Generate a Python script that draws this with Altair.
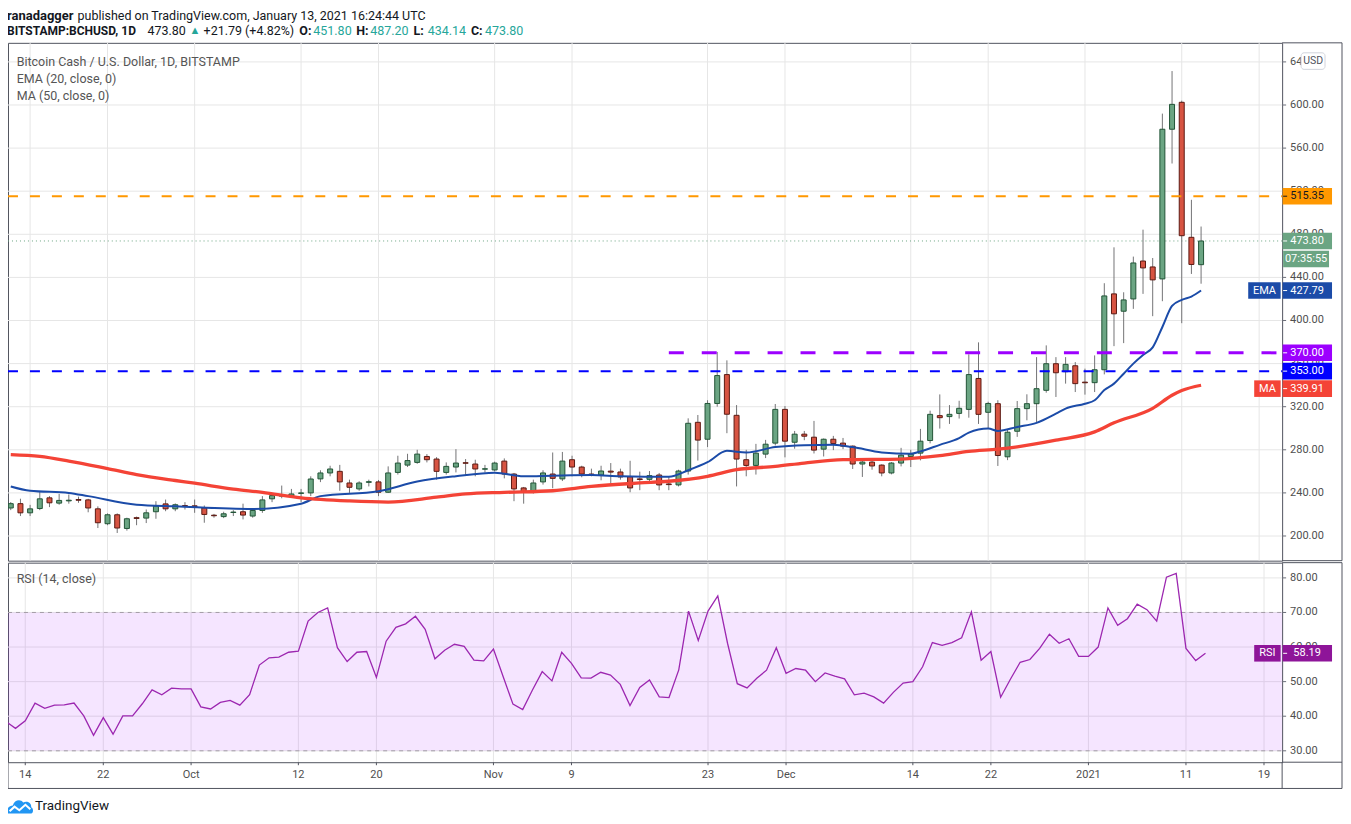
import altair as alt
import pandas as pd

# ---------------- data ----------------
FIRST_DAY = "2020-09-12"
opens = [226, 230, 221.5, 225.5, 235.4, 230.5, 232.6, 233.8, 233.5, 225.2, 211.4, 219.7, 207, 217, 216.6,
         222.5, 229.8, 225.2, 228.2, 228, 226.1, 219.3, 218, 221.8, 222.5, 218.5, 223.7, 234.5, 237, 237.2,
         239.5, 240, 253, 258.5, 260, 249.2, 243.7, 249.8, 250.2, 240.6, 259, 265.8, 268.3, 273.8, 271.4,
         259, 264, 268, 266.8, 262, 261.3, 269.5, 257.5, 244.6, 241.5, 250.2, 257.5, 253, 270.8, 264,
         257.5, 256.6, 260.2, 259.4, 255, 253, 252.6, 256.6, 248.3, 247.4, 260.3, 305.5, 289.8, 323, 349.8,
         312, 270.8, 265.5, 276, 286.2, 317.5, 287, 294.5, 291.7, 280.6, 289.8, 286.2, 283.4, 266.8, 268.6,
         265.8, 258.5, 267.7, 273.8, 276.9, 288.6, 311.7, 310.8, 313.8, 317.5, 346.2, 314.8, 322.8, 273.5,
         297.2, 318.2, 322.8, 335.2, 359.9, 352.5, 358, 342.8, 342.3, 354.3, 424.7, 408.6, 420, 455.2,
         449.7, 438.6, 577.5, 602.5, 477.2, 451.8]
highs = [231.5, 234.6, 228.9, 241.5, 237, 239, 238.5, 236.5, 234.5, 227.5, 221, 221, 217, 218, 224.6,
         232.3, 233.8, 230.2, 231.4, 233.8, 228.3, 220.5, 222.5, 224, 230, 225.2, 237, 240, 246.8, 243.7,
         243.7, 255.4, 261, 265.2, 266, 252.3, 250.8, 252.3, 252, 264.6, 274.5, 276.3, 280, 276, 273.2,
         268.3, 280.6, 271.4, 270.8, 266, 269, 272, 258.5, 245.5, 252.3, 261, 277.5, 278, 274.5, 265.2,
         262.5, 265.2, 267.7, 262.5, 269.8, 259.7, 260.3, 258.5, 254.8, 261.5, 309.2, 312.3, 326, 370.8, 363,
         321.5, 280, 285.5, 289.2, 322.5, 320.6, 297.5, 297.5, 306.8, 290.5, 292.9, 291, 284, 270.8, 270.8,
         266.5, 268.6, 281.8, 280, 299.4, 316.3, 331.4, 321.5, 325.5, 368.6, 379.7, 324.6, 326, 299,
         325.3, 331.5, 366, 376.9, 366, 366, 361.4, 355.3, 367.6, 434.6, 467.9, 426.2, 459.3, 484.3,
         458, 592, 631.5, 604, 512, 487.2]
lows = [224, 218.5, 218.5, 224, 226.8, 229, 230, 230.8, 222, 207.4, 210, 202.8, 205, 210, 212,
        216, 223, 223, 224.6, 221.5, 212.3, 217, 216.6, 218.5, 215.4, 217, 221.5, 231.4, 235, 236,
        231.4, 237, 250, 255.4, 242, 240, 242, 246, 237, 240, 257, 264, 267, 268.3, 252.3,
        257, 259, 256.3, 255.4, 259, 260, 253.5, 232.3, 230, 239.4, 247.7, 244.3, 251, 255.4, 254.5,
        255.4, 251.7, 248.6, 252.3, 240.6, 242.5, 249.8, 242.5, 242.5, 246, 257, 270, 282.5, 320, 295.4,
        246, 255.4, 257, 272.3, 284, 273, 281, 288.9, 276.6, 273.8, 279.7, 280.6, 262.2, 254.8, 261.5,
        255.4, 257.2, 264.6, 264, 270.2, 286, 299.7, 304, 309, 309.8, 304, 299.7, 265, 270.4,
        292, 307.4, 305.8, 333, 329, 341.4, 333.6, 331.2, 333.6, 350, 376.2, 379, 410.8, 424.7,
        404, 417.9, 545.7, 397.5, 443.2, 434.14]
closes = [230, 221.5, 225.2, 234.5, 230.8, 233, 233.2, 233.2, 226, 212.3, 219.7, 207.4, 216, 216.3, 221.5,
          227.7, 225.2, 229, 227.5, 227.4, 220, 218.8, 220.6, 222.2, 219.4, 223.7, 233.5, 237.5, 237.5, 239,
          240, 252.9, 258.5, 262.2, 250.2, 245.2, 249.2, 250.4, 240.6, 258.5, 267.7, 270, 276, 270.8, 260,
          264.6, 267.7, 267.5, 262.2, 262.4, 267.7, 257.5, 243.7, 240.6, 249.2, 258.5, 253.5, 269.5, 264, 257.5,
          257, 260.3, 259.3, 254.8, 244.6, 252.4, 256, 247.4, 247.7, 260.3, 304.6, 289, 323, 348.9, 313,
          271.4, 265.5, 276.9, 285.2, 317.5, 288, 294.5, 292.6, 279.7, 289.8, 285.8, 283.4, 266.8, 268.6, 265,
          258.5, 267.7, 275, 276, 288, 312.9, 309.8, 312.9, 318.5, 349.8, 312.9, 323, 274.7, 296.3,
          318.2, 322.8, 336.7, 359.9, 351.5, 359.3, 341.4, 342.2, 354.3, 422.8, 406.2, 419.1, 453.4, 448.8,
          437.7, 577.5, 600.6, 478.7, 452.01, 473.8]
rsi14 = [38.5, 36.5, 38.7, 43.8, 42.3, 43.2, 43.3, 43.8, 40.1, 34.5, 39.6, 34.8, 40.1, 40.1, 43.6,
         47.6, 46.2, 48.1, 47.9, 47.9, 42.7, 42.1, 44.0, 44.6, 43.2, 46.2, 54.8, 56.9, 57.1, 58.5,
         58.8, 67.5, 70.0, 71.3, 59.8, 55.8, 58.5, 58.7, 51.2, 61.7, 65.7, 66.7, 68.9, 65.1, 56.6,
         59.1, 60.8, 60.2, 56.2, 56.0, 59.4, 51.4, 43.5, 41.9, 47.6, 52.9, 50.2, 58.5, 55.3, 51.1,
         51.0, 52.7, 51.9, 49.2, 43.1, 48.3, 50.5, 45.6, 45.4, 53.4, 70.4, 61.9, 70.4, 74.8, 61.1,
         49.4, 48.2, 51.0, 53.3, 59.8, 52.4, 53.8, 53.3, 50.0, 52.5, 51.6, 50.8, 46.2, 46.7, 45.6,
         43.8, 46.9, 49.6, 50.0, 54.3, 61.3, 60.5, 61.3, 62.7, 70.2, 56.2, 58.7, 45.5, 50.7,
         55.6, 56.4, 59.6, 63.7, 61.1, 62.4, 57.3, 57.3, 60.0, 71.3, 66.3, 68.2, 72.4, 70.8,
         67.5, 80.2, 81.3, 59.6, 56.1, 58.19]

ema_dates = ["2020-09-12", "2020-09-14", "2020-09-18", "2020-09-20", "2020-09-25", "2020-09-29",
             "2020-10-07", "2020-10-12", "2020-10-14", "2020-10-20", "2020-10-24", "2020-10-28",
             "2020-11-01", "2020-11-04", "2020-11-07", "2020-11-11", "2020-11-14", "2020-11-19",
             "2020-11-21", "2020-11-23", "2020-11-25", "2020-11-27", "2020-11-30", "2020-12-03",
             "2020-12-06", "2020-12-08", "2020-12-11", "2020-12-14", "2020-12-15", "2020-12-17",
             "2020-12-19", "2020-12-20", "2020-12-22", "2020-12-23", "2020-12-25", "2020-12-27",
             "2020-12-29", "2020-12-30", "2021-01-01", "2021-01-02", "2021-01-03", "2021-01-04",
             "2021-01-05", "2021-01-06", "2021-01-07", "2021-01-08", "2021-01-09", "2021-01-10",
             "2021-01-11", "2021-01-12", "2021-01-13"]
ema_vals = [246, 242, 240, 237, 229, 227.5, 225, 230, 237, 241.5, 250.5, 255.5,
            258.8, 255.5, 256, 256.5, 255.5, 255, 261, 268.5, 279, 277.5, 282.5, 284.3,
            284.6, 282.5, 277.5, 276.3, 278.5, 284.6, 290.8, 296, 299.7, 297.5, 301.2, 305,
            313.5, 318.2, 322.8, 326, 335.5, 341.4, 350.6, 360, 368, 375, 394, 413.5,
            419.1, 422.2, 427.79]
ma_dates = ["2020-09-12", "2020-09-15", "2020-09-18", "2020-09-22", "2020-09-25", "2020-09-29",
            "2020-10-01", "2020-10-05", "2020-10-08", "2020-10-12", "2020-10-17", "2020-10-21",
            "2020-10-26", "2020-10-29", "2020-11-02", "2020-11-07", "2020-11-11", "2020-11-16",
            "2020-11-19", "2020-11-23", "2020-11-26", "2020-11-30", "2020-12-03", "2020-12-07",
            "2020-12-13", "2020-12-17", "2020-12-20", "2020-12-23", "2020-12-25", "2020-12-29",
            "2021-01-02", "2021-01-04", "2021-01-08", "2021-01-10", "2021-01-11", "2021-01-13"]
ma_vals = [275.5, 273.8, 269.5, 262.5, 257, 251.5, 249, 243.5, 240.5, 235.4, 232.5, 231.5,
           236, 239, 240.5, 242, 246, 249.2, 250.8, 255.4, 261.5, 264.6, 267.7, 270.8,
           271.4, 274.5, 278.5, 280.6, 282.7, 288.9, 296.6, 305, 318.5, 330.6, 335, 339.91]

tick_dates = ["2020-09-14", "2020-09-22", "2020-10-01", "2020-10-12", "2020-10-20", "2020-11-01",
              "2020-11-09", "2020-11-23", "2020-12-01", "2020-12-14", "2020-12-22", "2021-01-01",
              "2021-01-11", "2021-01-19"]
tick_labels = ["14", "22", "Oct", "12", "20", "Nov", "9", "23", "Dec", "14", "22", "2021", "11", "19"]
price_ticks = [200, 240, 280, 320, 360, 400, 440, 480, 520, 560, 600, 640]
rsi_ticks = [30, 40, 50, 60, 70, 80]

level_orange = 515.35
level_purple = 370.00
level_blue = 353.00
purple_from = "2020-11-19"
ema_last = ema_vals[-1]
ma_last = ma_vals[-1]
countdown = "07:35:55"

title_author = "ranadagger"
title_rest = "published on TradingView.com, January 13, 2021 16:24:44 UTC"
symbol = "BITSTAMP:BCHUSD, 1D"
series_name = "Bitcoin Cash / U.S. Dollar, 1D, BITSTAMP"
ema_name = "EMA (20, close, 0)"
ma_name = "MA (50, close, 0)"
rsi_name = "RSI (14, close)"

# ---------------- frames ----------------
ORIGIN = pd.Timestamp("2020-09-14")


def to_day(ds):
    return [(pd.Timestamp(d) - ORIGIN).days for d in ds]


dates = pd.date_range(FIRST_DAY, periods=len(opens), freq="D")
candles = pd.DataFrame({"day": (dates - ORIGIN).days, "open": opens, "high": highs,
                        "low": lows, "close": closes, "rsi": rsi14})
ema_df = pd.DataFrame({"day": to_day(ema_dates), "v": ema_vals})
ma_df = pd.DataFrame({"day": to_day(ma_dates), "v": ma_vals})
x_ticks = pd.DataFrame({"day": to_day(tick_dates), "lbl": tick_labels})
one = pd.DataFrame({"k": [0]})
price_grid = pd.DataFrame({"p": price_ticks, "lbl": [f"{v:.2f}" for v in price_ticks]})
rsi_grid = pd.DataFrame({"p": rsi_ticks, "lbl": [f"{v:.2f}" for v in rsi_ticks]})

last_c = closes[-1]
chg = last_c - closes[-2]
pct = chg / closes[-2] * 100

# ---------------- styling ----------------
FONT = "Roboto"
W, H1, H2, RA = 1277, 519, 200, 60
BOT = 226.3
GRID = "#e6e6e6"
FRAME = "#50535e"
LABEL = "#4f4f4f"
TICKC = "#6a6d78"
UP_FILL, UP_LINE = "#6ba583", "#225437"
DN_FILL, DN_LINE = "#d75442", "#5b1a13"
WICK = "#737375"
EMA_C = "#1b4ba8"
MA_C = "#f44336"
ORANGE = "#ff9800"
PURPLE = "#9c00ff"
BLUE = "#0000ff"
GREEN = "#6ba583"
TEAL = "#26a69a"
RSI_C = "#9c27b0"
RSI_BOX = "#8e1599"
DARK = "#131722"

xs = alt.Scale(domain=[-1.77, 128.86], nice=False, zero=False)
ys = alt.Scale(domain=[177.1, 657.7], nice=False, zero=False)
rs = alt.Scale(domain=[26.7, 84.4], nice=False, zero=False)
xnone = alt.X("day:Q", scale=xs, axis=None)


def rule_px(x, x2, y, y2=None, color=FRAME, width=1):
    enc = dict(x=alt.value(x), x2=alt.value(x2), y=alt.value(y))
    if y2 is not None:
        enc["y2"] = alt.value(y2)
    return alt.Chart(one).mark_rule(color=color, strokeWidth=width).encode(**enc)


def text_px(x, y, s, size=12.5, color=DARK, weight="normal", align="left"):
    return alt.Chart(one).mark_text(font=FONT, fontSize=size, color=color, fontWeight=weight,
                                    align=align, baseline="middle").encode(
        x=alt.value(x), y=alt.value(y), text=alt.value(s))


def grids(grid_df, scale, height):
    """vertical + horizontal gridlines, right-hand ticks and labels"""
    vg = alt.Chart(x_ticks).mark_rule(color=GRID, strokeWidth=1).encode(
        x=xnone, y=alt.value(0), y2=alt.value(height))
    hg = alt.Chart(grid_df).mark_rule(color=GRID, strokeWidth=1).encode(
        x=alt.value(0), x2=alt.value(W), y=alt.Y("p:Q", scale=scale, axis=None))
    t = alt.Chart(grid_df).mark_rule(color=TICKC, strokeWidth=1).encode(
        x=alt.value(W), x2=alt.value(W + 4), y=alt.Y("p:Q", scale=scale, axis=None))
    lab = alt.Chart(grid_df).mark_text(font=FONT, fontSize=11, color=LABEL, align="left",
                                       baseline="middle").encode(
        x=alt.value(W + 8), y=alt.Y("p:Q", scale=scale, axis=None), text="lbl:N")
    return [vg, hg, t, lab]


def hline(scale, value, color, dash, width, start_day=None):
    d = pd.DataFrame({"p": [value], "d": [start_day if start_day is not None else 0]})
    enc = dict(y=alt.Y("p:Q", scale=scale, axis=None), x2=alt.value(W))
    enc["x"] = alt.value(0) if start_day is None else alt.X("d:Q", scale=xs, axis=None)
    return alt.Chart(d).mark_rule(color=color, strokeDash=dash, strokeWidth=width).encode(**enc)


def ybox(scale, value, x0, x1, fill, o0=-8.3, o1=8.3):
    return alt.Chart(pd.DataFrame({"p": [value]})).mark_rect(
        fill=fill, yOffset=o0, y2Offset=o1).encode(
        x=alt.value(x0), x2=alt.value(x1), y=alt.Y("p:Q", scale=scale, axis=None), y2="p:Q")


def ytext(scale, value, s, x, color="white", dy=0, size=11):
    return alt.Chart(pd.DataFrame({"p": [value]})).mark_text(
        font=FONT, fontSize=size, color=color, align="center", baseline="middle", dy=dy).encode(
        x=alt.value(x), y=alt.Y("p:Q", scale=scale, axis=None), text=alt.value(s))


def ytick(scale, value, color="white", dy=0):
    return alt.Chart(pd.DataFrame({"p": [value]})).mark_rule(
        color=color, strokeWidth=1, yOffset=dy).encode(
        x=alt.value(W + 1), x2=alt.value(W + 5), y=alt.Y("p:Q", scale=scale, axis=None))


def value_label(scale, value, fill, tcolor="white", dy=0):
    return [ybox(scale, value, W + 0.5, W + 50, fill, -8.3 + dy, 8.3 + dy),
            ytick(scale, value, tcolor, dy),
            ytext(scale, value, f"{value:.2f}", W + 25, tcolor, dy)]


# ---------------- price pane ----------------
wicks = alt.Chart(candles).mark_rule(color=WICK, strokeWidth=1, clip=True).encode(
    x=xnone, y=alt.Y("low:Q", scale=ys, axis=None), y2="high:Q")
up = "datum.close >= datum.open"
bodies = alt.Chart(candles).mark_bar(size=5, strokeWidth=1, clip=True).encode(
    x=xnone, y=alt.Y("open:Q", scale=ys, axis=None), y2="close:Q",
    fill=alt.condition(up, alt.value(UP_FILL), alt.value(DN_FILL)),
    stroke=alt.condition(up, alt.value(UP_LINE), alt.value(DN_LINE)))
ema = alt.Chart(ema_df).mark_line(color=EMA_C, strokeWidth=2, interpolate="monotone", clip=True).encode(
    x=xnone, y=alt.Y("v:Q", scale=ys, axis=None))
ma = alt.Chart(ma_df).mark_line(color=MA_C, strokeWidth=3.3, interpolate="monotone", clip=True).encode(
    x=xnone, y=alt.Y("v:Q", scale=ys, axis=None))

price_layers = grids(price_grid, ys, H1)
price_layers += [
    hline(ys, last_c, GREEN, [1, 3], 1),
    wicks, bodies, ema, ma,
    hline(ys, level_orange, ORANGE, [10, 12], 2),
    hline(ys, level_blue, BLUE, [10, 12], 2),
    hline(ys, level_purple, PURPLE, [15, 18], 3, start_day=to_day([purple_from])[0]),
]
price_layers += value_label(ys, level_orange, ORANGE, DARK)
price_layers += value_label(ys, last_c, GREEN)
price_layers += [ybox(ys, last_c, W + 1, W + 47, GREEN, 9.7, 26.4),
                 ytext(ys, last_c, countdown, W + 24, "white", dy=18)]
price_layers += [ybox(ys, ema_last, W - 34, W - 1.5, EMA_C), ytext(ys, ema_last, "EMA", W - 17.7)]
price_layers += value_label(ys, ema_last, EMA_C)
price_layers += value_label(ys, level_purple, PURPLE)
price_layers += value_label(ys, level_blue, BLUE)
price_layers += [ybox(ys, ma_last, W - 28, W - 1.5, MA_C, -8.3 + 3.4, 8.3 + 3.4),
                 ytext(ys, ma_last, "MA", W - 14.7, dy=3.4)]
price_layers += value_label(ys, ma_last, MA_C, dy=3.4)

# USD badge
price_layers += [
    alt.Chart(one).mark_rect(fill="white", stroke="#d1d4dc", strokeWidth=1, cornerRadius=3).encode(
        x=alt.value(W + 19), x2=alt.value(W + 43), y=alt.value(10), y2=alt.value(26.6)),
    text_px(W + 31, 18.5, "USD", size=10.5, color=FRAME, align="center"),
]
# legend texts
price_layers += [
    text_px(8.7, 19.3, series_name, size=12.5, color="#555555"),
    text_px(8.7, 36.6, ema_name, size=12.5, color="#555555"),
    text_px(8.7, 53.3, ma_name, size=12.5, color="#555555"),
]
# header
L1, L2 = -26.7, -11.5
price_layers += [
    text_px(-1, L1, title_author, size=13, weight="bold"),
    text_px(69.7, L1, title_rest, size=12.5),
    text_px(-1, L2, symbol, size=12, weight="bold"),
    text_px(139.7, L2, f"{last_c:.2f}", size=12.5),
    text_px(182, L2, "\u25B2", size=11, color=TEAL),
    text_px(196, L2, f"+{chg:.2f} (+{pct:.2f}%)", size=12.5),
    text_px(292, L2, "O:", size=12.5, weight="bold"),
    text_px(306, L2, f"{opens[-1]:.2f}", size=12.5, color=TEAL),
    text_px(349, L2, "H:", size=12.5, weight="bold"),
    text_px(363, L2, f"{highs[-1]:.2f}", size=12.5, color=TEAL),
    text_px(406.3, L2, "L:", size=12.5, weight="bold"),
    text_px(420.7, L2, f"{lows[-1]:.2f}", size=12.5, color=TEAL),
    text_px(464, L2, "C:", size=12.5, weight="bold"),
    text_px(478, L2, f"{closes[-1]:.2f}", size=12.5, color=TEAL),
]
# frame pieces around the right axis
price_layers += [rule_px(W, W + RA, 0), rule_px(W, W + RA, H1), rule_px(W + RA, W + RA, 0, H1)]

price = alt.layer(*price_layers).properties(width=W, height=H1)

# ---------------- RSI pane ----------------
band = alt.Chart(pd.DataFrame({"a": [70], "b": [30]})).mark_rect(fill="#9b00ff", opacity=0.1).encode(
    x=alt.value(0), x2=alt.value(W), y=alt.Y("a:Q", scale=rs, axis=None), y2="b:Q")
rsi_line = alt.Chart(candles).mark_line(color=RSI_C, strokeWidth=1.3, clip=True).encode(
    x=xnone, y=alt.Y("rsi:Q", scale=rs, axis=None))
x_tickmarks = alt.Chart(x_ticks).mark_rule(color=FRAME, strokeWidth=1).encode(
    x=xnone, y=alt.value(H2), y2=alt.value(H2 + 3))
x_labels = alt.Chart(x_ticks).mark_text(font=FONT, fontSize=11, color=LABEL, align="center",
                                        baseline="middle").encode(
    x=xnone, y=alt.value(H2 + 12.5), text="lbl:N")

rsi_last = rsi14[-1]
rsi_layers = grids(rsi_grid, rs, H2)
rsi_layers += [
    band,
    hline(rs, 70, "#a39ca6", [4, 4], 1),
    hline(rs, 30, "#a39ca6", [4, 4], 1),
    rsi_line,
    x_tickmarks, x_labels,
    text_px(8.7, 16.5, rsi_name, size=12.5, color="#555555"),
    ybox(rs, rsi_last, W - 28, W - 1.5, RSI_BOX),
    ytext(rs, rsi_last, "RSI", W - 14.7),
]
rsi_layers += value_label(rs, rsi_last, RSI_BOX)
rsi_layers += [
    rule_px(W, W + RA, 0), rule_px(W, W + RA, H2), rule_px(W + RA, W + RA, 0, BOT),
    rule_px(W, W, H2, BOT), rule_px(0, 0, H2, BOT), rule_px(0, W + RA, BOT),
]
# TradingView logo
cloud = ("M -1 0.5 C -1.05 0.15 -0.8 -0.08 -0.55 -0.08 C -0.45 -0.5 0.05 -0.62 0.25 -0.3 "
         "C 0.55 -0.48 0.92 -0.25 0.86 0.06 C 1.05 0.12 1.05 0.5 0.88 0.55 L -0.92 0.55 Z")
zig = "M -0.8 0.38 L -0.42 0.02 L -0.05 0.3 L 0.42 -0.12 L 0.8 0.22"
rsi_layers += [
    alt.Chart(one).mark_point(shape=cloud, filled=True, fill="#2196f3", strokeWidth=0, size=676,
                              opacity=1).encode(x=alt.value(12), y=alt.value(BOT + 18)),
    alt.Chart(one).mark_point(shape=zig, filled=False, stroke="white", strokeWidth=2, size=676,
                              opacity=1).encode(x=alt.value(12), y=alt.value(BOT + 18)),
    text_px(27, BOT + 18, "TradingView", size=13.5, color=DARK),
]

rsi = alt.layer(*rsi_layers).properties(width=W, height=H2)

chart = alt.vconcat(price, rsi, spacing=0).properties(
    padding={"left": -3, "top": 0, "right": 0, "bottom": 0}, background="white"
).configure_view(stroke=FRAME, strokeWidth=1)

chart.save("out.html", embed_options={"renderer": "svg", "actions": False})
